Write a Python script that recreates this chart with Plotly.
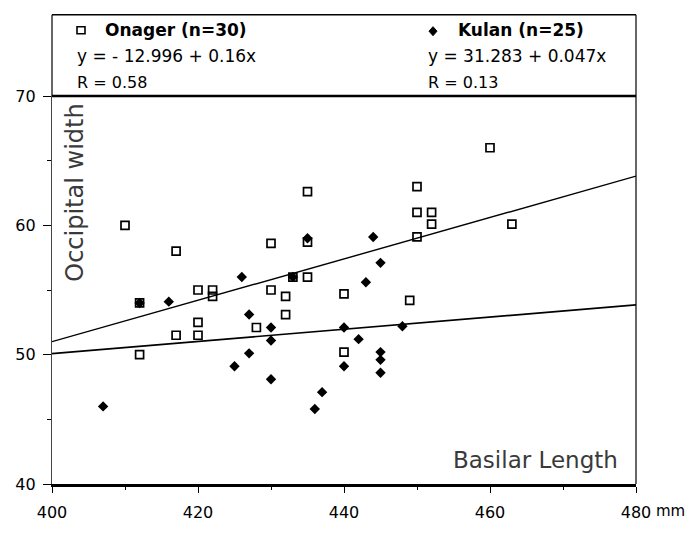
import plotly.graph_objects as go

# ---- data ----
onager_x = [410, 417, 435, 430, 435, 433, 435, 420, 422, 422, 412, 430, 432, 440, 432,
            420, 428, 417, 420, 412, 440, 460, 450, 450, 452, 452, 463, 450, 449]
onager_y = [60.0, 58.0, 62.6, 58.6, 58.7, 56.0, 56.0, 55.0, 55.0, 54.5, 54.0, 55.0, 54.5, 54.7, 53.1,
            52.5, 52.1, 51.5, 51.5, 50.0, 50.2, 66.0, 63.0, 61.0, 61.0, 60.1, 60.1, 59.1, 54.2]

kulan_x = [435, 426, 433, 412, 416, 427, 430, 430, 440, 442, 427, 425, 440, 430, 437,
           436, 407, 444, 445, 443, 448, 445, 445, 445]
kulan_y = [59.0, 56.0, 56.0, 54.0, 54.1, 53.1, 52.1, 51.1, 52.1, 51.2, 50.1, 49.1, 49.1, 48.1, 47.1,
           45.8, 46.0, 59.1, 57.1, 55.6, 52.2, 50.2, 49.6, 48.6]

onager_fit = (-12.996, 0.16)   # intercept, slope
kulan_fit = (31.283, 0.047)
fit_x = [400, 480]

x_ticks = [400, 420, 440, 460, 480]
x_minor = [410, 430, 450, 470]
y_ticks = [40, 50, 60, 70]
y_minor = [45, 55, 65]

# ---- layout geometry (pixels) ----
W, H = 689, 534
ML, MR, MT, MB = 52, 53, 96, 37
PW = W - ML - MR
PH = H - MT - MB


def px(xp):
    return (xp - ML) / PW


def py(yp):
    return 1 + (MT - yp) / PH


FONT = "DejaVu Sans"

fig = go.Figure()

fig.add_trace(go.Scatter(
    x=fit_x, y=[onager_fit[0] + onager_fit[1] * v for v in fit_x],
    mode="lines", line=dict(color="black", width=1.4), showlegend=False))
fig.add_trace(go.Scatter(
    x=fit_x, y=[kulan_fit[0] + kulan_fit[1] * v for v in fit_x],
    mode="lines", line=dict(color="black", width=1.7), showlegend=False))

fig.add_trace(go.Scatter(
    x=onager_x, y=onager_y, mode="markers",
    marker=dict(symbol="square-open", size=8, color="black", line=dict(width=1.7)),
    showlegend=False))
fig.add_trace(go.Scatter(
    x=kulan_x, y=kulan_y, mode="markers",
    marker=dict(symbol="diamond", size=8, color="black"),
    showlegend=False))

shapes = []
# header box
top = py(12)
shapes.append(dict(type="line", xref="paper", yref="paper", x0=0, x1=1, y0=top, y1=top,
                   line=dict(color="black", width=1.5)))
shapes.append(dict(type="line", xref="paper", yref="paper", x0=0, x1=0, y0=1, y1=top,
                   line=dict(color="black", width=1.2)))
shapes.append(dict(type="line", xref="paper", yref="paper", x0=1, x1=1, y0=0, y1=top,
                   line=dict(color="black", width=1.2)))
shapes.append(dict(type="line", xref="paper", yref="paper", x0=0, x1=1, y0=1, y1=1,
                   line=dict(color="black", width=2.5)))
# legend symbols
shapes.append(dict(type="rect", xref="paper", yref="paper", xsizemode="pixel", ysizemode="pixel",
                   xanchor=px(81), yanchor=py(28), x0=-4, x1=4, y0=-3.5, y1=3.5,
                   line=dict(color="black", width=1.6), fillcolor="white"))
shapes.append(dict(type="path", xref="paper", yref="paper", xsizemode="pixel", ysizemode="pixel",
                   xanchor=px(433), yanchor=py(29),
                   path="M 0,4.5 L 4,0 L 0,-4.5 L -4,0 Z",
                   line=dict(color="black", width=1), fillcolor="black"))

annotations = []


def txt(s, xp, yp, size=16, bold=False, xanchor="left"):
    annotations.append(dict(
        text=s, xref="paper", yref="paper", x=px(xp), y=py(yp),
        xanchor=xanchor, yanchor="middle", showarrow=False,
        font=dict(family=FONT, size=size, color="black", weight="bold" if bold else "normal")))


txt("Onager (n=30)", 103, 28, 17, True)
txt("y = - 12.996 + 0.16x", 75, 55, 17)
txt("R = 0.58", 75, 82, 16)
txt("Kulan (n=25)", 456, 28, 17, True)
txt("y = 31.283 + 0.047x", 426, 55, 17)
txt("R = 0.13", 426, 82, 16)
txt("mm", 654, 525, 15)

annotations.append(dict(text="Occipital width", xref="paper", yref="paper", x=px(75), y=py(196),
                        xanchor="center", yanchor="middle", textangle=-90, showarrow=False,
                        font=dict(family=FONT, size=24, color="#3a3a3a")))
annotations.append(dict(text="Basilar Length", xref="paper", yref="paper", x=px(535), y=py(472),
                        xanchor="center", yanchor="middle", showarrow=False,
                        font=dict(family=FONT, size=23, color="#3a3a3a")))

fig.update_layout(
    width=W, height=H,
    margin=dict(l=ML, r=MR, t=MT, b=MB, pad=0),
    paper_bgcolor="white", plot_bgcolor="white",
    shapes=shapes, annotations=annotations,
    font=dict(family=FONT, size=16, color="black"),
)
fig.update_xaxes(
    range=[400, 480], tickvals=x_ticks, ticktext=[str(v) for v in x_ticks],
    showgrid=False, zeroline=False, showline=True, linecolor="black", linewidth=2.5,
    ticks="outside", ticklen=6, tickwidth=1.2, tickcolor="black", ticklabelstandoff=6,
    tickfont=dict(family=FONT, size=16),
    minor=dict(tickvals=x_minor, ticks="outside", ticklen=3, tickcolor="black", showgrid=False),
)
fig.update_yaxes(
    range=[40, 70], tickvals=y_ticks, ticktext=[str(v) for v in y_ticks],
    showgrid=False, zeroline=False, showline=True, linecolor="#444", linewidth=1.2,
    ticks="outside", ticklen=8, tickwidth=1.2, tickcolor="black", ticklabelstandoff=4,
    tickfont=dict(family=FONT, size=16),
    minor=dict(tickvals=y_minor, ticks="outside", ticklen=4, tickcolor="black", showgrid=False),
)

fig.write_html("out.html")
